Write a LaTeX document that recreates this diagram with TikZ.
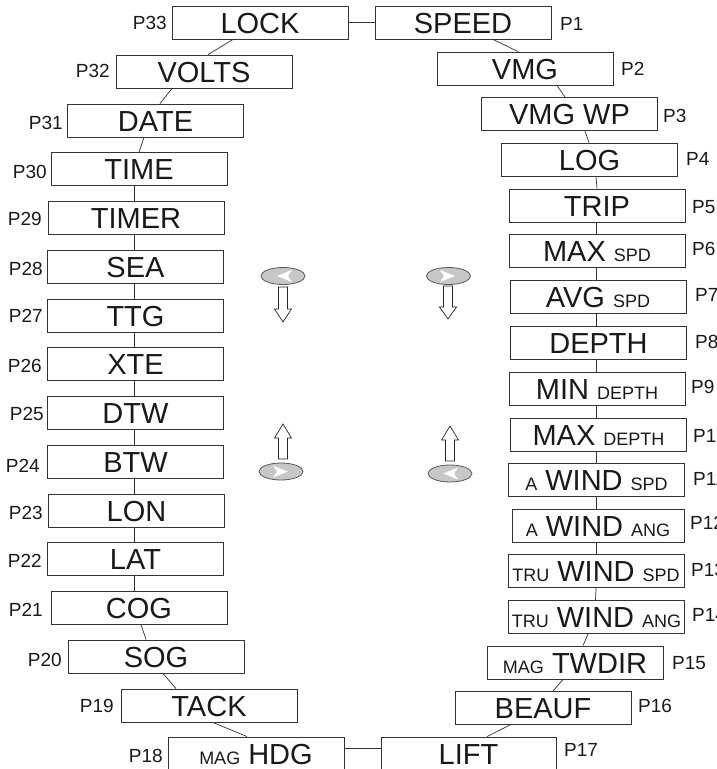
\documentclass[tikz,border=0pt]{standalone}
\usepackage{fontspec}
\setmainfont{Liberation Sans}
\newcommand\bigt{\fontsize{29}{29}\selectfont}
\newcommand\smt{\fontsize{18}{18}\selectfont}
\newcommand\labt{\fontsize{19}{19}\selectfont}
\begin{document}
\begin{tikzpicture}[x=1pt,y=-1pt,
  pbox/.style={draw=black!80, line width=0.9pt, minimum width=176pt, minimum height=33pt,
    inner sep=0pt, text height=21pt, text depth=0pt, font=\bigt, text=black!90},
  plabl/.style={font=\labt, inner sep=0pt, text height=13.7pt, text depth=0pt, anchor=east, text=black!90},
  plabr/.style={font=\labt, inner sep=0pt, text height=13.7pt, text depth=0pt, anchor=west, text=black!90},
  conn/.style={draw=black!80, line width=0.7pt},
  btn/.style={draw=black!65, fill=black!22, line width=0.8pt},
  harrow/.style={draw=black!85, fill=white, line width=0.7pt, line join=miter}]
\useasboundingbox (0,0) rectangle (716,769);
\clip (0,0) rectangle (716,769);
% left column
\node[pbox] (lock)  at (260,22.5)  {LOCK};
\node[pbox] (volts) at (204,71.5)  {VOLTS};
\node[pbox] (date)  at (155.5,120.5) {DATE};
\node[pbox] (time)  at (139,169)   {TIME};
\node[pbox] (timer) at (136,217.5) {TIMER};
\node[pbox] (sea)   at (135.5,266.5) {SEA};
\node[pbox] (ttg)   at (135.5,315.5) {TTG};
\node[pbox] (xte)   at (135.5,364) {XTE};
\node[pbox] (dtw)   at (135.5,412.5) {DTW};
\node[pbox] (btw)   at (135.5,461.5) {BTW};
\node[pbox] (lon)   at (136.5,510.5) {LON};
\node[pbox] (lat)   at (135.5,559) {LAT};
\node[pbox] (cog)   at (139,607.5) {COG};
\node[pbox] (sog)   at (156,656.5) {SOG};
\node[pbox] (tack)  at (209,705.5) {TACK};
\node[pbox] (hdg)   at (256,753.5) {{\smt MAG} HDG};
% right column
\node[pbox] (speed) at (463,22.5) {SPEED};
\node[pbox] (vmg)   at (525,68.5) {VMG};
\node[pbox] (vmgwp) at (569.5,114) {VMG WP};
\node[pbox] (log)   at (589.5,159.5) {LOG};
\node[pbox] (trip)  at (597,205.5) {TRIP};
\node[pbox] (maxspd) at (597,251) {MAX {\smt SPD}};
\node[pbox] (avgspd) at (598,296.5) {AVG {\smt SPD}};
\node[pbox] (depth) at (598.5,343) {DEPTH};
\node[pbox] (mindep) at (597,388.5) {MIN {\smt DEPTH}};
\node[pbox] (maxdep) at (598.5,434.5) {MAX {\smt DEPTH}};
\node[pbox] (awspd) at (596.5,480) {{\smt A} WIND {\smt SPD}};
\node[pbox, minimum width=172pt] (awang) at (598,525.5) {{\smt A} WIND {\smt ANG}};
\node[pbox] (twspd) at (596,571) {{\smt TRU} WIND {\smt SPD}};
\node[pbox] (twang) at (596.5,617) {{\smt TRU} WIND {\smt ANG}};
\node[pbox] (twdir) at (575,662.5) {{\smt MAG} TWDIR};
\node[pbox] (beauf) at (543,708) {BEAUF};
\node[pbox, minimum width=175pt] (lift) at (468.5,753.5) {LIFT};
% labels left
\node[plabl] (l33) at (167,23) {P33};
\node[plabl] (l32) at (110,71) {P32};
\node[plabl] (l31) at (63,123) {P31};
\node[plabl] (l30) at (47,172) {P30};
\node[plabl] (l29) at (42,219) {P29};
\node[plabl] (l28) at (43,269) {P28};
\node[plabl] (l27) at (43,316) {P27};
\node[plabl] (l26) at (42,366) {P26};
\node[plabl] (l25) at (44,414) {P25};
\node[plabl] (l24) at (40,466) {P24};
\node[plabl] (l23) at (43,512.5) {P23};
\node[plabl] (l22) at (42,561) {P22};
\node[plabl] (l21) at (43,609.5) {P21};
\node[plabl] (l20) at (62,659.5) {P20};
\node[plabl] (l19) at (114,705.5) {P19};
\node[plabl] (l18) at (163,755.5) {P18};
% labels right
\node[plabr] (r1) at (560,23.5) {P1};
\node[plabr] (r2) at (621,69) {P2};
\node[plabr] (r3) at (663,116) {P3};
\node[plabr] (r4) at (686,159) {P4};
\node[plabr] (r5) at (692,206.5) {P5};
\node[plabr] (r6) at (692,248.5) {P6};
\node[plabr] (r7) at (695,295) {P7};
\node[plabr] (r8) at (695,341.5) {P8};
\node[plabr] (r9) at (691,387) {P9};
\node[plabr] (r10) at (693,435.5) {P10};
\node[plabr] (r11) at (693,479) {P11};
\node[plabr] (r12) at (690,523) {P12};
\node[plabr] (r13) at (691,570) {P13};
\node[plabr] (r14) at (692,614.5) {P14};
\node[plabr] (r15) at (672,662.5) {P15};
\node[plabr] (r16) at (638,705.5) {P16};
\node[plabr] (r17) at (564,749.5) {P17};
% connectors left
\coordinate (lc) at (134.3,0);
\coordinate (rc) at (596.7,0);
\draw[conn] (lock.east) -- (speed.west);
\draw[conn] ([xshift=-27pt]lock.south) -- ([xshift=4pt]volts.north);
\draw[conn] ([xshift=-32pt]volts.south) -- ([xshift=4.5pt]date.north);
\draw[conn] ([xshift=-11.5pt]date.south) -- (time.north);
\draw[conn] (time.south -| lc) -- (timer.north -| lc);
\draw[conn] (timer.south -| lc) -- (sea.north -| lc);
\draw[conn] (sea.south -| lc) -- (ttg.north -| lc);
\draw[conn] (ttg.south -| lc) -- (xte.north -| lc);
\draw[conn] (xte.south -| lc) -- (dtw.north -| lc);
\draw[conn] (dtw.south -| lc) -- (btw.north -| lc);
\draw[conn] (btw.south -| lc) -- (lon.north -| lc);
\draw[conn] (lon.south -| lc) -- (lat.north -| lc);
\draw[conn] (lat.south -| lc) -- (cog.north -| lc);
\draw[conn] ([xshift=2pt]cog.south) -- ([xshift=-10pt]sog.north);
\draw[conn] ([xshift=7pt]sog.south) -- ([xshift=-33pt]tack.north);
\draw[conn] ([xshift=4pt]tack.south) -- ([xshift=-9pt]hdg.north);
\draw[conn] ([yshift=5.5pt]hdg.east) -- ([yshift=5.5pt]lift.west);
% connectors right
\draw[conn] ([xshift=30pt]speed.south) -- ([xshift=-7pt]vmg.north);
\draw[conn] ([xshift=32pt]vmg.south) -- ([xshift=-4.5pt]vmgwp.north);
\draw[conn] ([xshift=15.5pt]vmgwp.south) -- ([xshift=-0.5pt]log.north);
\draw[conn] ([xshift=6.5pt]log.south) -- (trip.north);
\draw[conn] (trip.south -| rc) -- (maxspd.north -| rc);
\draw[conn] (maxspd.south -| rc) -- (avgspd.north -| rc);
\draw[conn] (avgspd.south -| rc) -- (depth.north -| rc);
\draw[conn] (depth.south -| rc) -- (mindep.north -| rc);
\draw[conn] (mindep.south -| rc) -- (maxdep.north -| rc);
\draw[conn] (maxdep.south -| rc) -- (awspd.north -| rc);
\draw[conn] (awspd.south -| rc) -- (awang.north -| rc);
\draw[conn] (awang.south -| rc) -- (twspd.north -| rc);
\draw[conn] (twspd.south) -- ([xshift=-1pt]twang.north);
\draw[conn] ([xshift=-8.5pt]twang.south) -- ([xshift=8pt]twdir.north);
\draw[conn] ([xshift=-12pt]twdir.south) -- ([xshift=10pt]beauf.north);
\draw[conn] ([xshift=-33pt]beauf.south) -- ([xshift=18.5pt]lift.north);
% buttons
\draw[btn] (283,276) ellipse [x radius=22, y radius=8.5];
\fill[white] (277,276) -- (292,270) -- (288,276) -- (292,282) -- cycle;
\draw[btn] (448.5,276) ellipse [x radius=22, y radius=8.5];
\fill[white] (455,276) -- (440,270) -- (444,276) -- (440,282) -- cycle;
\draw[btn] (281,471.5) ellipse [x radius=22, y radius=8.5];
\fill[white] (288,471.5) -- (273,465.5) -- (277,471.5) -- (273,477.5) -- cycle;
\draw[btn] (450,473.5) ellipse [x radius=22, y radius=8.5];
\fill[white] (443,473.5) -- (458,467.5) -- (454,473.5) -- (458,479.5) -- cycle;
% hollow arrows
\draw[harrow] (278.5,287) -- (287.5,287) -- (287.5,309) -- (291.5,309) -- (283,322) -- (274.5,309) -- (278.5,309) -- cycle;
\draw[harrow] (443.5,286) -- (452.5,286) -- (452.5,307) -- (456.5,307) -- (448,319) -- (439.5,307) -- (443.5,307) -- cycle;
\draw[harrow] (278.5,459) -- (287.5,459) -- (287.5,438) -- (291.5,438) -- (283,424) -- (274.5,438) -- (278.5,438) -- cycle;
\draw[harrow] (445.5,461) -- (454.5,461) -- (454.5,440) -- (458.5,440) -- (450,426) -- (441.5,440) -- (445.5,440) -- cycle;
\end{tikzpicture}
\end{document}
